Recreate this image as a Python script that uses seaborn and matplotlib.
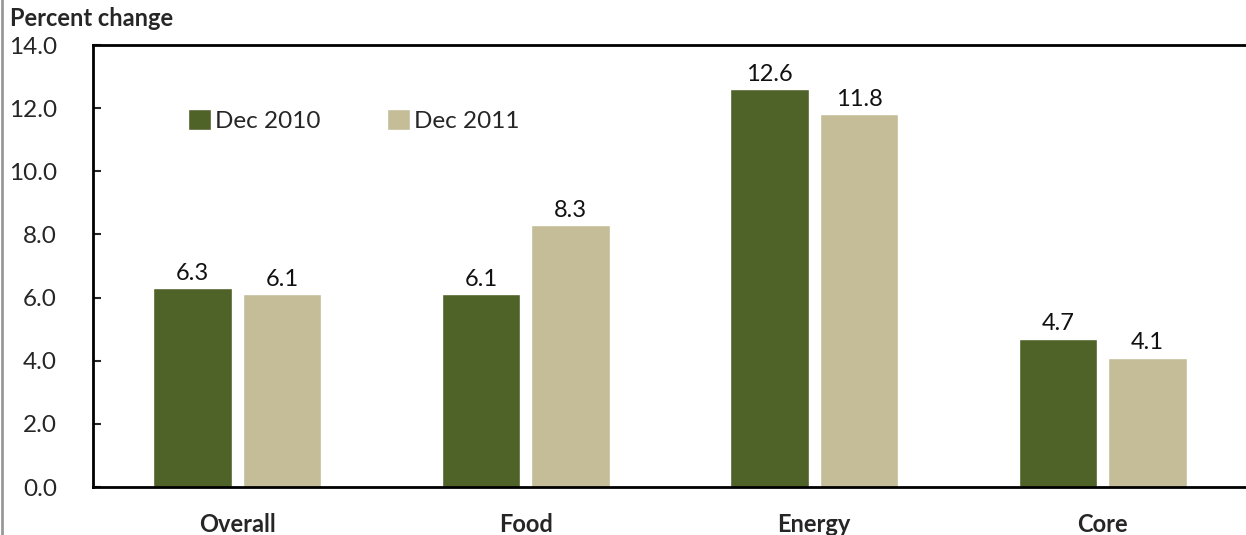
import matplotlib
matplotlib.use("Agg")
import matplotlib.pyplot as plt
import seaborn as sns
import pandas as pd
from matplotlib.lines import Line2D

categories = ["Overall", "Food", "Energy", "Core"]
dec_2010 = [6.3, 6.1, 12.6, 4.7]
dec_2011 = [6.1, 8.3, 11.8, 4.1]
series_names = ["Dec 2010", "Dec 2011"]
y_ticks = [0, 2, 4, 6, 8, 10, 12, 14]

df = pd.DataFrame({
    "category": categories * 2,
    "series": [series_names[0]] * 4 + [series_names[1]] * 4,
    "value": dec_2010 + dec_2011,
})

sns.set_style("white")
plt.rcParams["font.family"] = ["Lato", "DejaVu Sans"]

fig = plt.figure(figsize=(12.46, 5.35), dpi=100)
ax = fig.add_axes([93 / 1246, 48 / 535, 1154 / 1246, 442 / 535])

sns.barplot(data=df, x="category", y="value", hue="series",
            palette=["#4F6228", "#C4BD97"], width=0.62, gap=0.12,
            saturation=1, ax=ax, legend=True)

for cont in ax.containers:
    ax.bar_label(cont, fmt="%.1f", padding=3, fontsize=17, color="#111111")

ax.set_ylim(0, 14)
ax.set_xlim(-0.5, 3.5)
ax.set_yticks(y_ticks)
ax.set_yticklabels([f"{v:.1f}" for v in y_ticks], fontsize=17.5)
ax.tick_params(axis="y", direction="in", length=6, width=1.5, left=True, pad=26)
ax.tick_params(axis="x", length=0, pad=19)
for lab in ax.get_xticklabels():
    lab.set_fontweight("bold")
    lab.set_fontsize(17)
ax.set_xlabel("")
ax.set_ylabel("")

for side in ["left", "bottom", "top"]:
    ax.spines[side].set_visible(True)
    ax.spines[side].set_color("black")
    ax.spines[side].set_linewidth(2)
ax.spines["right"].set_visible(False)

leg = ax.legend(loc="center left", bbox_to_anchor=(0.072, 0.83), ncol=2,
                frameon=False, fontsize=17.5, handlelength=0.95, handleheight=0.95,
                handletextpad=0.15, columnspacing=2.75, borderpad=0)

fig.text(10 / 1246, 1 - 19 / 535, "Percent change", fontsize=17, fontweight="bold",
         va="center", ha="left")

# thin grey border at the left edge
fig.add_artist(Line2D([0.0015, 0.0015], [0, 1], color="#999999", lw=2,
                      transform=fig.transFigure))

fig.savefig("out.png", dpi=100)
